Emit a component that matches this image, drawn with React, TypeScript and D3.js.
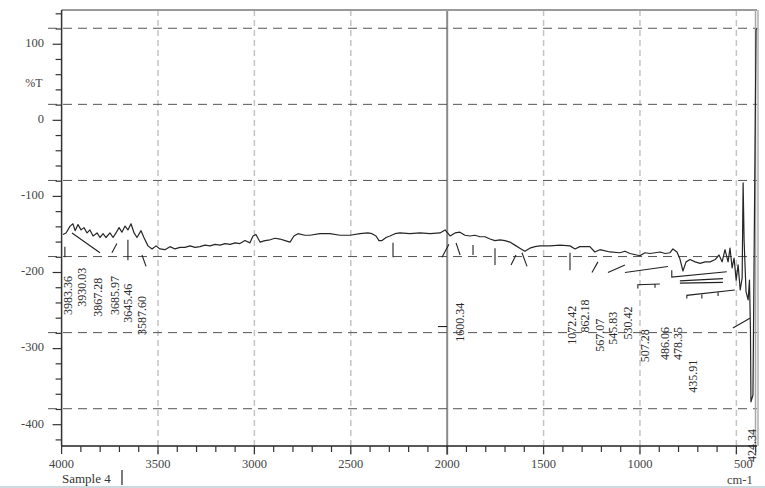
import React from 'react';
import * as d3 from 'd3';

// Spectrum: wavenumber (cm-1) vs %T
const wavenumbers = [
  3993, 3977, 3956, 3941, 3930, 3915, 3899, 3884, 3868, 3853, 3837, 3816, 3801, 3785, 3770, 3749,
  3733, 3718, 3702, 3687, 3671, 3656, 3640, 3624, 3609, 3588, 3573, 3552, 3531, 3510, 3490, 3464,
  3438, 3412, 3386, 3360, 3334, 3308, 3282, 3256, 3230, 3204, 3178, 3152, 3126, 3100, 3075, 3049,
  3023, 3007, 2992, 2971, 2945, 2919, 2893, 2867, 2841, 2815, 2795, 2774, 2738, 2712, 2660, 2608,
  2556, 2504, 2452, 2411, 2390, 2369, 2354, 2338, 2317, 2297, 2271, 2245, 2193, 2141, 2089, 2037,
  2011, 1985, 1959, 1934, 1908, 1882, 1856, 1830, 1804, 1778, 1752, 1726, 1700, 1675, 1649, 1623,
  1597, 1571, 1545, 1519, 1467, 1415, 1363, 1337, 1312, 1260, 1234, 1208, 1156, 1104, 1078, 1052,
  1000, 974, 948, 896, 870, 844, 829, 808, 793, 777, 761, 740, 714, 688, 662, 636,
  610, 590, 574, 559, 543, 533, 522, 512, 501, 491, 480, 470, 465, 460, 450, 439,
  432, 427, 424.34, 414, 398, 393,
];
const transmittance = [
  -150, -148, -139, -136, -145, -137, -144, -141, -148, -144, -152, -148, -154, -149, -154, -148,
  -154, -148, -141, -147, -139, -144, -136, -148, -154, -145, -154, -165, -169, -165, -169, -170,
  -166, -169, -167, -167, -165, -167, -166, -164, -165, -163, -164, -162, -163, -161, -162, -158,
  -161, -152, -150, -160, -158, -157, -155, -156, -158, -160, -152, -149, -151, -151, -149, -149,
  -151, -151, -149, -148, -149, -152, -158, -158, -154, -152, -149, -148, -149, -148, -149, -148,
  -144, -152, -148, -147, -151, -152, -151, -153, -153, -156, -158, -157, -158, -160, -164, -168,
  -172, -168, -166, -165, -165, -164, -165, -169, -166, -166, -173, -170, -173, -174, -172, -175,
  -178, -174, -175, -173, -175, -174, -169, -173, -182, -198, -186, -183, -186, -188, -186, -186,
  -183, -177, -186, -170, -186, -168, -194, -181, -210, -190, -223, -207, -82, -157, -225, -236,
  -210, -275, -370, -361, 119, 121,
];

const yTickValues = [100, 0, -100, -200, -300, -400];
const yGridValues = [121, 21, -79, -179, -279, -379];
const xTickValues = [4000, 3500, 3000, 2500, 2000, 1500, 1000, 500];
const xGridValues = [3500, 3000, 2500, 1500, 1000, 500];
const cursorWavenumber = 2000;

// Peak labels: text, column wavenumber, value where the text starts
const peakLabels = [
  '3983.36', '3930.03', '3867.28', '3685.97', '3645.46', '3587.60',
  '1600.34', '1072.42', '862.18', '567.07', '545.83', '530.42', '507.28', '486.06', '478.35', '435.91', '424.34',
];
const peakLabelW = [3967, 3894, 3811, 3723, 3656, 3583, 1934, 1352, 1284, 1206, 1139, 1061, 973, 870, 802, 725, 419];
const peakLabelV = [-256, -245, -258, -256, -266, -282, -291, -295, -279, -304, -295, -288, -318, -315, -315, -358, -449];

// Leader lines as drawn in the picture, [wavenumber, %T]
const leaderLines: [number, number][][] = [
  [[3983, -166], [3983, -180]],
  [[3946, -148], [3801, -174]],
  [[3739, -174], [3713, -162]],
  [[3656, -157], [3656, -184]],
  [[3583, -177], [3562, -192]],
  [[2281, -161], [2281, -180]],
  [[2027, -180], [1991, -163]],
  [[1954, -161], [1933, -177]],
  [[1866, -164], [1866, -177]],
  [[1752, -168], [1752, -190]],
  [[1669, -190], [1643, -177]],
  [[1612, -174], [1586, -192]],
  [[1363, -174], [1363, -197]],
  [[2048, -271], [2001, -271]],
  [[1249, -200], [1218, -186]],
  [[1166, -200], [1078, -190]],
  [[1078, -200], [855, -192]],
  [[1011, -221], [1011, -216], [897, -215]],
  [[922, -215], [922, -220]],
  [[835, -197], [835, -206], [550, -199]],
  [[793, -211], [570, -208]],
  [[793, -214], [570, -213]],
  [[757, -234], [757, -230], [508, -223]],
  [[679, -229], [679, -234]],
  [[595, -226], [595, -231]],
  [[518, -273], [430, -260]],
];

const W = 765;
const H = 488;
const x = d3.scaleLinear().domain([4000, 393]).range([61.6, 757]);
const y = d3.scaleLinear().domain([145, -428]).range([10, 446]);
const FONT = '"Liberation Serif", "DejaVu Serif", serif';

export default function App() {
  const pts: [number, number][] = wavenumbers.map((w, i) => [w, transmittance[i]]);
  const line = d3.line<[number, number]>().x((d) => x(d[0])).y((d) => y(d[1]));
  const xMinor = d3.range(4000, 399, -100);
  const yMinor = d3.range(-420, 141, 20);
  const left = x(4000);
  const right = x(393);
  const top = y(145);
  const bottom = y(-428);

  return (
    <svg width={W} height={H} style={{ position: 'fixed', left: 0, top: 0, background: '#fff' }} fontFamily={FONT}>
      <rect x={0} y={0} width={W} height={H} fill="#fff" />
      {/* vertical grid */}
      {xGridValues.map((v) => (
        <line key={'xg' + v} x1={x(v)} x2={x(v)} y1={top} y2={bottom + 9} stroke="#c4c4c4" strokeWidth={1.5} strokeDasharray="6 4" />
      ))}
      <line x1={x(cursorWavenumber)} x2={x(cursorWavenumber)} y1={top} y2={bottom + 9} stroke="#8a8a8a" strokeWidth={2} />
      {/* horizontal grid */}
      {yGridValues.map((v) => (
        <line key={'yg' + v} x1={48} x2={right} y1={y(v)} y2={y(v)} stroke="#555" strokeWidth={1} strokeDasharray="9 6" />
      ))}
      {/* frame */}
      <line x1={left} x2={right} y1={top} y2={top} stroke="#9a9a9a" strokeWidth={2} />
      <line x1={right - 1.5} x2={right - 1.5} y1={top} y2={bottom} stroke="#a8a8a8" strokeWidth={1.5} />
      <line x1={right + 1} x2={right + 1} y1={top} y2={bottom} stroke="#b0b0b0" strokeWidth={1.5} />
      {/* y axis */}
      <line x1={left} x2={left} y1={top} y2={bottom} stroke="#333" strokeWidth={1.5} />
      {yMinor.map((v) => (
        <line key={'ym' + v} x1={left - (v % 100 === 0 ? 9 : 6)} x2={left} y1={y(v)} y2={y(v)} stroke="#333" strokeWidth={1.2} />
      ))}
      {yTickValues.map((v) => (
        <text key={'yt' + v} x={44} y={y(v)} textAnchor="end" dominantBaseline="middle" fontSize={12.5} fill="#444">
          {v}
        </text>
      ))}
      <text x={34} y={y(48)} textAnchor="middle" dominantBaseline="middle" fontSize={12} fill="#444">%T</text>
      {/* x axis */}
      <line x1={left} x2={right} y1={bottom} y2={bottom} stroke="#222" strokeWidth={1.5} />
      {xMinor.map((v) => (
        <line key={'xm' + v} x1={x(v)} x2={x(v)} y1={bottom} y2={bottom + (v % 500 === 0 ? 8 : 6)} stroke="#333" strokeWidth={1.2} />
      ))}
      {xTickValues.map((v) => (
        <text key={'xt' + v} x={x(v) + (v === 500 ? 7 : 0)} y={468} textAnchor="middle" fontSize={12.5} fill="#444">
          {v}
        </text>
      ))}
      <text x={727} y={484} fontSize={12.5} fill="#444">cm-1</text>
      <text x={62} y={483} fontSize={13} fill="#333">Sample 4</text>
      <line x1={122} x2={122} y1={470} y2={485} stroke="#222" strokeWidth={1.2} />
      <rect x={0} y={486} width={W} height={2} fill="#cdd8df" />
      {/* spectrum */}
      <path d={line(pts) || ''} fill="none" stroke="#262626" strokeWidth={1.2} strokeLinejoin="round" />
      {/* leaders */}
      {leaderLines.map((seg, i) => (
        <path key={'ld' + i} d={line(seg) || ''} fill="none" stroke="#222" strokeWidth={1.1} />
      ))}
      {/* peak labels */}
      {peakLabels.map((t, i) => (
        <text
          key={'pl' + i}
          transform={`translate(${x(peakLabelW[i]) + 4},${y(peakLabelV[i])}) rotate(-90)`}
          fontSize={12}
          fill="#2a2a2a"
        >
          {t}
        </text>
      ))}
    </svg>
  );
}
